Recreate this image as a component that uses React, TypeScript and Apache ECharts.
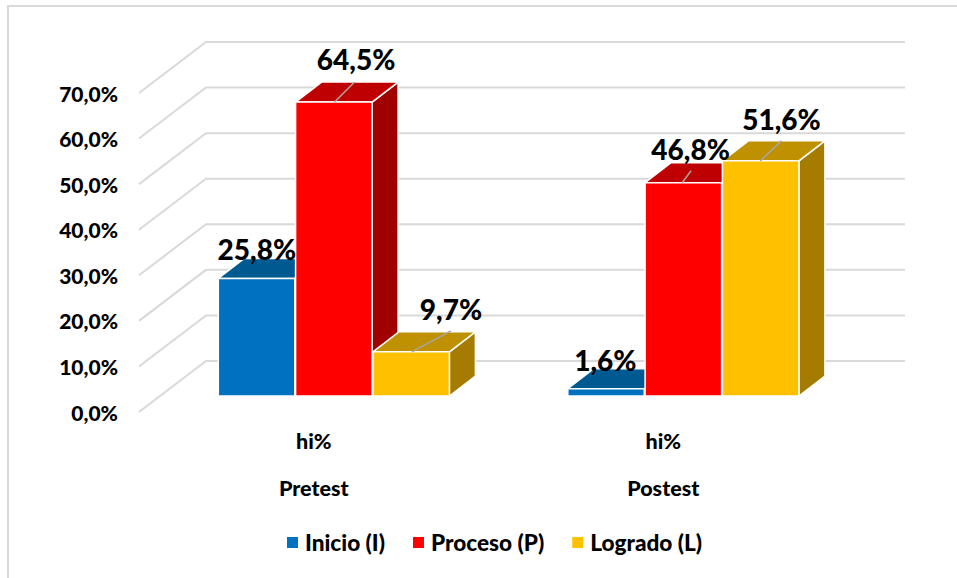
import React, { useEffect, useRef } from "react";
import * as echarts from "echarts";

const levelLabels = ["hi%", "hi%"];
const categories = ["Pretest", "Postest"];
const seriesNames = ["Inicio (I)", "Proceso (P)", "Logrado (L)"];
const inicio = [25.8, 1.6];
const proceso = [64.5, 46.8];
const logrado = [9.7, 51.6];
const yTicks = [0, 10, 20, 30, 40, 50, 60, 70];

const fontFamily = "Lato, Carlito, sans-serif";
const palette = [
  { front: "#0070C0", top: "#005A92", side: "#004F85" },
  { front: "#FF0000", top: "#BF0000", side: "#A00000" },
  { front: "#FFC000", top: "#BF9000", side: "#A67C00" },
];
const allValues = [inicio, proceso, logrado];
const fmt = (v: number) => v.toFixed(1).replace(".", ",") + "%";

// pixel geometry of the pseudo-3D scene
const wall = { dx: 67, dy: -51 };
const plane = { dx: 20, dy: -16 };
const depth = { dx: 26, dy: -20 };
const barW = 76.5;
const barStep = 77.3;

// label offsets relative to the bar's front-top-left corner: [labelX, labelY]
const labelPlace = [
  [[38.5, -29], [37.5, -29]],
  [[60.5, -43], [45.5, -34]],
  [[78, -43], [59, -42]],
];
const leaderEnds = [
  [null, null],
  [[39, 0, 59, -20], [37, 0, 46, -12]],
  [[39, 0, 78, -21], [38, 0, 59, -20]],
];

function barCorner(api: any, seriesIdx: number, catIdx: number, value: number) {
  const p = api.coord([catIdx, value]);
  const base = api.coord([catIdx, 0]);
  const x = p[0] + plane.dx - (barStep * 3) / 2 + barStep * seriesIdx + 0.5;
  return { x, top: p[1] + plane.dy, bottom: base[1] + plane.dy };
}

const makeBarSeries = (seriesIdx: number) => ({
  type: "custom",
  name: seriesNames[seriesIdx],
  itemStyle: { color: palette[seriesIdx].front },
  clip: false,
  silent: true,
  data: allValues[seriesIdx].map((v, i) => [i, v]),
  encode: { x: 0, y: 1 },
  renderItem: (_p: any, api: any) => {
    const catIdx = api.value(0);
    const { x, top, bottom } = barCorner(api, seriesIdx, catIdx, api.value(1));
    const c = palette[seriesIdx];
    const stroke = { stroke: "#ffffff", lineWidth: 1.5, lineJoin: "round" };
    const r = x + barW;
    return {
      type: "group",
      children: [
        {
          type: "polygon",
          shape: { points: [[r, top], [r + depth.dx, top + depth.dy], [r + depth.dx, bottom + depth.dy], [r, bottom]] },
          style: { fill: c.side, ...stroke },
        },
        {
          type: "polygon",
          shape: { points: [[x, top], [x + depth.dx, top + depth.dy], [r + depth.dx, top + depth.dy], [r, top]] },
          style: { fill: c.top, ...stroke },
        },
        {
          type: "rect",
          shape: { x, y: top, width: barW, height: bottom - top },
          style: { fill: c.front, ...stroke },
        },
      ],
    };
  },
});

const wallSeries = {
  type: "custom",
  clip: false,
  silent: true,
  data: yTicks.map((v) => [0, v]),
  encode: { x: 0, y: 1 },
  renderItem: (params: any, api: any) => {
    const y = api.coord([0, api.value(1)])[1];
    const left = params.coordSys.x;
    const right = left + params.coordSys.width;
    return {
      type: "polyline",
      shape: { points: [[left, y], [left + wall.dx, y + wall.dy], [right + wall.dx, y + wall.dy]] },
      style: { fill: "none", stroke: "#d9d9d9", lineWidth: 2 },
    };
  },
};

const labelData = allValues.flatMap((vals, s) => vals.map((v, i) => [i, v, s]));

const labelSeries = {
  type: "custom",
  clip: false,
  silent: true,
  data: labelData,
  encode: { x: 0, y: 1 },
  renderItem: (_p: any, api: any) => {
    const i = api.value(0);
    const v = api.value(1);
    const s = api.value(2);
    const { x, top } = barCorner(api, s, i, v);
    const place = labelPlace[s][i];
    const end = leaderEnds[s][i];
    const children: any[] = [];
    if (end) {
      children.push({
        type: "line",
        shape: { x1: x + end[0], y1: top + end[1], x2: x + end[2], y2: top + end[3] },
        style: { stroke: "#a6a6a6", lineWidth: 1.5 },
      });
    }
    children.push({
      type: "text",
      x: x + place[0],
      y: top + place[1],
      style: {
        text: fmt(v),
        fill: "#000000",
        font: `900 28px ${fontFamily}`,
        align: "center",
        verticalAlign: "middle",
      },
    });
    return { type: "group", children };
  },
};

const option = {
  animation: false,
  backgroundColor: "#ffffff",
  grid: { left: 139, top: 93, width: 699, height: 319 },
  legend: {
    left: 282,
    top: 526,
    itemWidth: 11,
    itemHeight: 11,
    itemGap: 28,
    icon: "rect",
    selectedMode: false,
    data: seriesNames,
    textStyle: { color: "#000", fontFamily, fontWeight: 900, fontSize: 22.6, padding: [0, 0, 0, 2] },
  },
  xAxis: [
    {
      type: "category",
      data: levelLabels,
      axisLine: { show: false },
      axisTick: { show: false },
      axisLabel: { color: "#000", fontFamily, fontWeight: 900, fontSize: 21.5, margin: 18 },
    },
    {
      type: "category",
      position: "bottom",
      offset: 47,
      data: categories,
      axisLine: { show: false },
      axisTick: { show: false },
      axisLabel: { color: "#000", fontFamily, fontWeight: 900, fontSize: 21.5, margin: 18 },
    },
  ],
  yAxis: {
    type: "value",
    min: 0,
    max: 70,
    interval: 10,
    axisLine: { show: false },
    axisTick: { show: false },
    splitLine: { show: false },
    axisLabel: { color: "#000", fontFamily, fontWeight: 900, fontSize: 21, margin: 21, formatter: (v: number) => fmt(v) },
  },
  graphic: [
    { type: "line", shape: { x1: 7, y1: 6, x2: 957, y2: 6 }, style: { stroke: "#d9d9d9", lineWidth: 2 } },
    { type: "line", shape: { x1: 8, y1: 6, x2: 8, y2: 578 }, style: { stroke: "#d9d9d9", lineWidth: 2 } },
  ],
  series: [wallSeries, makeBarSeries(0), makeBarSeries(1), makeBarSeries(2), labelSeries],
};

export default function App() {
  const ref = useRef<HTMLDivElement>(null);
  useEffect(() => {
    document.body.style.margin = "0";
    const chart = echarts.init(ref.current!, undefined, { renderer: "svg" });
    chart.setOption(option as any);
    return () => chart.dispose();
  }, []);
  return <div ref={ref} style={{ width: 957, height: 578 }} />;
}
